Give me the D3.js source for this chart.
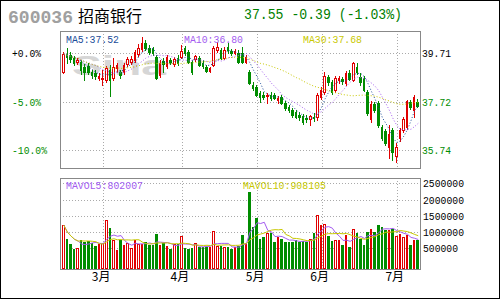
<!DOCTYPE html>
<html><head><meta charset="utf-8">
<script src="https://cdn.jsdelivr.net/npm/d3@7"></script>
<style>body{margin:0;background:#fff}svg{display:block}</style>
</head><body><svg id="c" width="500" height="300"></svg>
<script>
const stockCode = "600036";
const stockName = "招商银行";
const quoteText = "37.55 -0.39 (-1.03%)";
const opens = [38.96,39.69,39.65,39.53,39.36,39.36,39.16,39.20,38.96,38.91,38.71,38.67,38.63,39.04,38.71,39.12,38.96,38.96,39.28,39.36,
39.45,39.69,39.90,40.14,39.94,39.90,39.57,38.83,39.41,39.20,39.45,39.28,39.53,39.57,39.94,39.77,39.36,39.49,39.53,39.32,
39.16,39.00,39.24,39.86,39.86,39.53,39.98,39.81,39.73,39.73,39.73,39.36,38.96,38.42,38.34,38.10,38.01,37.97,38.01,38.01,
37.81,37.93,37.69,37.52,37.40,37.32,37.20,37.16,37.07,37.03,37.11,37.11,37.93,38.14,38.75,38.55,38.22,38.63,38.67,38.51,
38.91,38.63,39.16,38.75,38.71,38.14,37.03,37.65,37.69,36.71,36.54,35.89,36.58,35.52,36.26,36.58,36.71,37.73,37.40,37.73];
const highs = [39.77,39.94,39.77,39.61,39.53,39.45,39.28,39.32,39.04,39.04,38.91,39.04,39.20,39.24,39.53,39.32,39.04,39.32,39.57,39.61,
39.86,40.10,40.39,40.26,40.06,39.98,39.65,39.45,39.53,39.65,39.53,39.57,39.65,40.06,40.02,39.86,39.45,39.65,39.61,39.45,
39.24,39.16,40.02,40.18,39.94,39.98,40.14,39.90,39.90,39.86,39.98,39.65,39.04,38.55,38.42,38.18,38.14,38.10,38.14,38.10,
37.97,38.01,37.77,37.61,37.48,37.40,37.32,37.24,37.20,37.20,37.28,38.10,38.34,38.96,38.83,38.63,38.79,38.79,38.75,39.00,
39.04,39.36,39.32,38.91,38.79,38.22,37.77,37.73,37.77,36.79,36.62,36.79,36.66,36.05,36.66,37.11,37.81,37.81,38.01,37.85];
const lows = [38.91,39.32,39.36,39.24,39.28,38.87,38.63,38.87,38.71,38.67,38.63,38.42,38.55,37.97,38.63,38.96,38.71,38.87,39.20,39.28,
39.36,39.61,39.81,39.86,39.69,39.65,38.67,38.75,38.96,39.12,39.28,39.20,39.24,39.53,39.65,39.32,38.87,39.41,39.20,39.12,
38.96,38.96,39.20,39.77,39.49,39.49,39.73,39.65,39.69,39.32,39.32,39.32,38.46,38.22,37.97,37.73,37.85,37.69,37.81,37.85,
37.69,37.65,37.40,37.32,37.11,37.07,36.99,36.83,36.91,36.79,36.95,36.99,37.85,38.06,38.42,38.06,38.14,38.51,38.46,38.42,
38.63,38.59,38.87,38.42,38.18,37.20,36.91,37.32,36.71,36.17,35.97,35.44,35.36,35.27,36.13,36.50,36.62,37.44,37.11,37.52];
const closes = [39.69,39.57,39.49,39.32,39.45,39.04,38.96,38.96,38.83,38.79,38.79,38.71,39.12,38.63,39.16,39.24,38.83,39.24,39.49,39.49,
39.77,39.94,40.14,39.94,39.77,39.73,38.71,39.32,39.28,39.57,39.36,39.49,39.32,39.81,39.73,39.36,38.96,39.61,39.24,39.20,
39.00,39.12,39.94,39.98,39.53,39.86,39.86,39.73,39.81,39.36,39.36,39.57,38.51,38.30,38.01,37.93,37.93,38.01,37.89,37.89,
37.89,37.69,37.48,37.40,37.20,37.11,37.11,36.91,37.03,37.16,37.07,38.01,38.22,38.79,38.55,38.14,38.71,38.71,38.59,38.91,
38.67,39.32,38.96,38.55,38.22,37.28,37.65,37.40,36.79,36.26,36.05,36.42,35.68,35.89,36.58,37.03,37.77,37.52,37.94,37.55];
const volumes = [1215000,785000,630000,477000,500000,754000,700000,720000,650000,570000,
630000,650000,1370000,1130000,754000,446000,754000,600000,670000,500000,
754000,630000,630000,700000,600000,600000,940000,600000,650000,570000,
470000,630000,630000,890000,520000,470000,520000,670000,530000,530000,
530000,550000,1030000,570000,570000,530000,550000,480000,550000,570000,
910000,670000,2240000,1160000,1440000,800000,860000,980000,960000,700000,
860000,800000,700000,700000,700000,750000,700000,720000,700000,800000,
960000,1520000,1220000,1250000,880000,730000,750000,750000,600000,910000,
550000,1080000,980000,800000,600000,1000000,1080000,1000000,1220000,1140000,
1060000,1060000,1080000,880000,940000,840000,910000,600000,750000,750000];
const monthStarts = [11, 33, 54, 72, 93];
const monthLabels = ["3月", "4月", "5月", "6月", "7月"];
const priceTicks = [39.71, 37.72, 35.74];
const pctLabels = ["+0.0%", "-5.0%", "-10.0%"];
const volTicks = [500000, 1000000, 1500000, 2000000, 2500000];
const maPeriods = [5, 10, 30];
const maLabels = ["MA5:37.52", "MA10:36.80", "MA30:37.68"];
const volMaPeriods = [5, 10];
const volMaLabels = ["MAVOL5:802007", "MAVOL10:908105"];

const svg = d3.select("#c");
const RED = "#e00000", GREEN = "#008c00", GRID = "#aaaaaa", FRAME = "#888888";
const maColors = ["#1a4c99", "#a45cf0", "#c8c800"];
const volMaColors = ["#a45cf0", "#c8c800"];
const mono = "'Liberation Mono', 'DejaVu Sans Mono', monospace";
const cjk = "'Noto Sans CJK SC', sans-serif";
const main = {l: 60, r: 420, t: 31, b: 168};
const vp = {t: 178, b: 269};
const n = closes.length;
const x = d3.scaleBand().domain(d3.range(n)).range([62, 420]);
const step = x.step();
const y = d3.scaleLinear().domain([35.74, 39.71]).range([150.3, 53.3]);
const yv = d3.scaleLinear().domain([0, 2500000]).range([264.5, 183.3]);
const px = v => Math.round(v) + 0.5;
const cxOf = i => x(i) + step / 2;

// outer frame
svg.append("rect").attr("x", 0.5).attr("y", 0.5).attr("width", 499).attr("height", 298)
  .attr("fill", "none").attr("stroke", "#000");

// grids
const grid = svg.append("g").attr("stroke", GRID).attr("stroke-dasharray", "1,2").attr("shape-rendering", "crispEdges");
grid.selectAll(".hp").data(priceTicks).join("line")
  .attr("x1", main.l).attr("x2", main.r).attr("y1", d => px(y(d))).attr("y2", d => px(y(d)));
grid.selectAll(".hv").data(volTicks).join("line").attr("class", "hv")
  .attr("x1", main.l).attr("x2", main.r).attr("y1", d => px(yv(d))).attr("y2", d => px(yv(d)));
grid.selectAll(".vm").data(monthStarts).join("line").attr("class", "vm")
  .attr("x1", d => px(cxOf(d))).attr("x2", d => px(cxOf(d))).attr("y1", main.t).attr("y2", main.b);
grid.selectAll(".vv").data(monthStarts).join("line").attr("class", "vv")
  .attr("x1", d => px(cxOf(d))).attr("x2", d => px(cxOf(d))).attr("y1", vp.t).attr("y2", vp.b);

// watermark
svg.append("text").attr("x", 72).attr("y", 75).text("Sina")
  .attr("font-family", "'Liberation Sans', Arial, sans-serif").attr("font-weight", "bold")
  .attr("font-size", 28).attr("fill", "#d6d6d6").attr("textLength", 94).attr("lengthAdjust", "spacingAndGlyphs");

// candles
const cg = svg.append("g").attr("shape-rendering", "crispEdges");
d3.range(n).forEach(i => {
  const x0 = Math.round(x(i)), x1 = Math.round(x(i) + step) - 1, w = x1 - x0;
  const wx = x0 + Math.floor(w / 2) + 0.5;
  const o = opens[i], c = closes[i], up = c >= o;
  const yT = Math.round(y(Math.max(o, c))), yB = Math.round(y(Math.min(o, c)));
  const yH = Math.round(y(highs[i])), yL = Math.round(y(lows[i]));
  const col = up ? RED : GREEN;
  if (up && yB - yT >= 2 && w >= 3) {
    cg.append("line").attr("x1", wx).attr("x2", wx).attr("y1", yH).attr("y2", yT).attr("stroke", col);
    cg.append("line").attr("x1", wx).attr("x2", wx).attr("y1", yB + 1).attr("y2", yL + 1).attr("stroke", col);
    cg.append("rect").attr("x", x0 + 0.5).attr("y", yT + 0.5).attr("width", w - 1).attr("height", yB - yT)
      .attr("fill", "#fff").attr("stroke", col);
  } else {
    cg.append("line").attr("x1", wx).attr("x2", wx).attr("y1", yH).attr("y2", yL + 1).attr("stroke", col);
    cg.append("rect").attr("x", x0).attr("y", yT).attr("width", w).attr("height", Math.max(1, yB - yT + 1)).attr("fill", col);
  }
  // volume
  const vT = Math.round(yv(volumes[i]));
  if (up && w >= 3) {
    cg.append("rect").attr("x", x0 + 0.5).attr("y", vT + 0.5).attr("width", w - 1).attr("height", vp.b - 1 - vT)
      .attr("fill", "#fff").attr("stroke", col);
  } else {
    cg.append("rect").attr("x", x0).attr("y", vT).attr("width", w).attr("height", vp.b - vT).attr("fill", col);
  }
});

// moving averages (partial window at the start)
const ma = (arr, p) => arr.map((_, i) => d3.mean(arr.slice(Math.max(0, i - p + 1), i + 1)));
const line = d3.line().x((d, i) => cxOf(i));
maPeriods.forEach((p, k) => {
  svg.append("path").attr("d", line.y(d => y(d))(ma(closes, p)))
    .attr("fill", "none").attr("stroke", maColors[k]).attr("stroke-width", 1).attr("stroke-dasharray", "1,2");
});
volMaPeriods.forEach((p, k) => {
  svg.append("path").attr("d", line.y(d => yv(d))(ma(volumes, p)))
    .attr("fill", "none").attr("stroke", volMaColors[k]).attr("stroke-width", 1);
});

// panel frames
svg.append("rect").attr("x", main.l + 0.5).attr("y", main.t + 0.5).attr("width", main.r - main.l).attr("height", main.b - main.t)
  .attr("fill", "none").attr("stroke", FRAME).attr("shape-rendering", "crispEdges");
svg.append("rect").attr("x", main.l + 0.5).attr("y", vp.t + 0.5).attr("width", main.r - main.l).attr("height", vp.b - vp.t)
  .attr("fill", "none").attr("stroke", FRAME).attr("shape-rendering", "crispEdges");

// axes
function styleAxis(g, colorFn, charW) {
  g.select(".domain").remove();
  g.selectAll(".tick line").remove();
  g.selectAll("text").attr("font-family", mono).attr("font-size", 11)
    .attr("fill", colorFn).attr("textLength", function() { return this.textContent.length * charW - 1; })
    .attr("lengthAdjust", "spacingAndGlyphs");
}
const pctAxis = svg.append("g").attr("transform", "translate(12,0)")
  .call(d3.axisRight(y).tickValues(priceTicks).tickSize(0).tickPadding(0).tickFormat((d, i) => pctLabels[i]));
styleAxis(pctAxis, (d, i) => i === 0 ? "#000" : GREEN, 6);
const priceAxis = svg.append("g").attr("transform", `translate(${main.r + 2},0)`)
  .call(d3.axisRight(y).tickValues(priceTicks).tickSize(0).tickPadding(0).tickFormat(d3.format(".2f")));
styleAxis(priceAxis, (d, i) => i === 0 ? "#000" : GREEN, 6);
const volAxis = svg.append("g").attr("transform", `translate(${main.r + 3},0)`)
  .call(d3.axisRight(yv).tickValues(volTicks).tickSize(0).tickPadding(0).tickFormat(d3.format("d")));
styleAxis(volAxis, () => "#000", 6);
const monAxis = svg.append("g").attr("transform", `translate(-2,${vp.b})`)
  .call(d3.axisBottom(x).tickValues(monthStarts).tickSize(0).tickPadding(3).tickFormat((d, i) => monthLabels[i]));
monAxis.select(".domain").remove();
monAxis.selectAll("text").attr("font-family", cjk).attr("font-size", 12).attr("fill", "#000");

// titles
svg.append("text").attr("x", 8).attr("y", 23).text(stockCode).attr("font-family", mono).attr("font-weight", "bold")
  .attr("font-size", 19).attr("fill", "#a0a0a0").attr("textLength", 65).attr("lengthAdjust", "spacingAndGlyphs");
svg.append("text").attr("x", 78).attr("y", 22).text(stockName).attr("font-family", cjk).attr("font-size", 16).attr("fill", "#000");
svg.append("text").attr("x", 244).attr("y", 19).text(quoteText).attr("font-family", mono).attr("font-size", 14)
  .attr("fill", "#008000").attr("textLength", 158).attr("lengthAdjust", "spacingAndGlyphs");

// MA labels
const maX = [66, 184, 303];
maLabels.forEach((t, k) => svg.append("text").attr("x", maX[k]).attr("y", 43).text(t)
  .attr("font-family", mono).attr("font-size", 11).attr("fill", maColors[k])
  .attr("textLength", t.length * 6 - 1).attr("lengthAdjust", "spacingAndGlyphs"));
const vmaX = [66, 243];
volMaLabels.forEach((t, k) => svg.append("text").attr("x", vmaX[k]).attr("y", 189).text(t)
  .attr("font-family", mono).attr("font-size", 11).attr("fill", volMaColors[k])
  .attr("textLength", t.length * 6 - 1).attr("lengthAdjust", "spacingAndGlyphs"));
</script></body></html>
